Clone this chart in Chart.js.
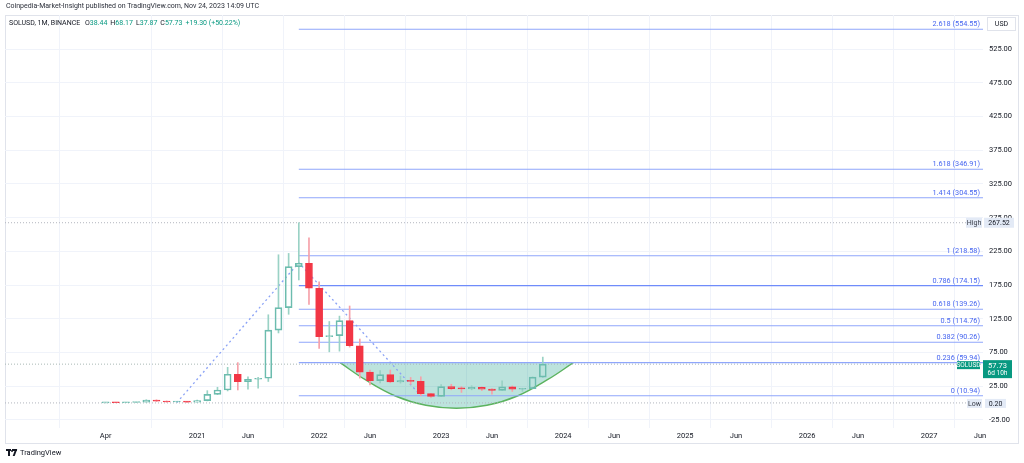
<!DOCTYPE html>
<html>
<head>
<meta charset="utf-8">
<title>SOLUSD 1M</title>
<script src="https://cdn.jsdelivr.net/npm/chart.js@4.4.0/dist/chart.umd.min.js"></script>
<style>
  html, body { margin: 0; padding: 0; background: #fff; }
  body { width: 1024px; height: 463px; position: relative; overflow: hidden; font-family: Roboto, "Liberation Sans", sans-serif; color: #131722; }
  #frame { position: absolute; left: 5px; top: 15px; width: 1014px; height: 429px; border: 1px solid #e0e3eb; box-sizing: border-box; }
  #chart { position: absolute; left: 0; top: 0; }
  .pub { position: absolute; left: 6px; top: 2px; font-size: 7px; color: #2a2e39; white-space: nowrap; }
  .legend { position: absolute; left: 9px; top: 19px; font-size: 7px; white-space: nowrap; color: #131722; }
  .legend span { margin-right: 3px; }
  .up { color: #089981; }
  .foot { position: absolute; left: 6px; top: 448px; font-size: 7.5px; white-space: nowrap; color: #131722; display: flex; align-items: center; }
  .logo { display: inline-block; width: 11px; height: 7px; position: relative; margin-right: 3px; }
  .logo i { position: absolute; background: #131722; }
</style>
</head>
<body>
<div id="frame"></div>
<canvas id="chart" width="1024" height="463"></canvas>
<div class="pub">Coinpedia-Market-Insight published on TradingView.com, Nov 24, 2023 14:09 UTC</div>
<div class="legend"><span>SOLUSD, 1M, BINANCE</span> <span>O<b class="up" style="font-weight:normal">38.44</b></span><span>H<b class="up" style="font-weight:normal">68.17</b></span><span>L<b class="up" style="font-weight:normal">37.87</b></span><span>C<b class="up" style="font-weight:normal">57.73</b></span><span class="up">+19.30 (+50.22%)</span></div>
<div class="foot"><span class="logo"><i style="left:0;top:0;width:5px;height:2px"></i><i style="left:2px;top:0;width:2px;height:7px"></i><i style="left:5px;top:1px;width:2px;height:2px;border-radius:1px"></i><i style="left:6px;top:0;width:5px;height:2px"></i><i style="left:8px;top:0;width:2px;height:7px;transform:skewX(-20deg)"></i></span>TradingView</div>
<script>
// monthly candles, SOLUSD
const dates = [
  "2020-04","2020-05","2020-06","2020-07","2020-08","2020-09","2020-10","2020-11","2020-12",
  "2021-01","2021-02","2021-03","2021-04","2021-05","2021-06","2021-07","2021-08","2021-09","2021-10","2021-11","2021-12",
  "2022-01","2022-02","2022-03","2022-04","2022-05","2022-06","2022-07","2022-08","2022-09","2022-10","2022-11","2022-12",
  "2023-01","2023-02","2023-03","2023-04","2023-05","2023-06","2023-07","2023-08","2023-09","2023-10","2023-11"
];
const opens = [0.22,0.62,0.52,0.78,1.32,4.4,2.9,1.6,1.9,
  1.5,3.7,13.0,19.4,42.7,31.7,35.3,36.8,108.3,141.5,202.3,207.4,
  170.3,98.5,100,122.2,85,46,33.2,42.1,31.5,33.3,32.2,13.9,
  9.96,24.3,21.4,21.0,23.4,20.6,18.9,23.9,20.5,21.3,38.44];
const highs = [0.98,0.76,0.95,1.48,4.95,4.8,3.1,2.6,2.2,
  4.5,18.4,23.4,53,60,39,38,131,220,222,267.52,245,
  180,121,129,144,95,49,48,49,40,38,39,14.6,
  27.3,27.9,24.3,25.8,24,21.5,32.8,25.4,22,38.8,68.17];
const lows = [0.20,0.45,0.52,0.75,1.30,2.5,1.2,1.5,1.1,
  1.4,3.2,12.5,18,19.4,20.5,22,32,104,131.7,182.6,146.5,
  81,76,77,83,37,27,30,30,29.5,27.8,11,8.5,
  9.6,19.6,15.8,19.6,18.5,13.3,18.6,17.3,17.3,21.1,37.87];
const closes = [0.62,0.52,0.78,1.32,4.4,2.9,1.6,1.9,1.5,
  3.7,13.0,19.4,42.7,31.7,35.3,36.8,108.3,141.5,202.3,207.4,170.3,
  98.5,100,122.2,85,46,33.2,42.1,31.5,33.3,32.2,13.9,9.96,
  24.3,21.4,21.0,23.4,20.6,18.9,23.9,20.5,21.3,38.44,57.73];

// trend based fib extension
const fibRatios = ["2.618","1.618","1.414","1","0.786","0.618","0.5","0.382","0.236","0"];
const fibLevels = [554.55,346.91,304.55,218.58,174.15,139.26,114.76,90.26,59.94,10.94];
const fibStart = "2021-11";
const trendDates = ["2020-11","2021-11","2022-11"];
const trendValues = [0.6,208.2,10.94];

// cup drawn under the 0.236 line (months since Jan 2020, price)
const cupMonths = [26.06,28.5,31.5,34.5,37.5,40.5,43.5,46.5,49.0];
const cupValues = [59.94,35,10.5,-3.3,-7.7,-3.3,10.5,35,59.94];

const highValue = 267.52;
const lowValue = 0.20;
const lastPrice = 57.73;

const xTickMonths = [3,12,17,24,29,36,41,48,53,60,65,72,77,84,89];
const xTickLabels = ["Apr","2021","Jun","2022","Jun","2023","Jun","2024","Jun","2025","Jun","2026","Jun","2027","Jun"];
const yTicks = [-25,25,75,125,175,225,275,325,375,425,475,525];

const X_MIN = -6.9, X_MAX = 89.3;
const Y_MIN = -37, Y_MAX = 575.7;

const toMonth = s => { const [yy, mm] = s.split("-").map(Number); return (yy - 2020) * 12 + (mm - 1); };
const xs = dates.map(toMonth);
const isUp = closes.map((c, i) => c >= opens[i]);

const GREEN = "#6cbcae", GREEN_WICK = "#9ad2c5", RED = "#f23645", RED_WICK = "#f6a1a9";

const hLine = (v, color, dash, width) => ({
  type: "line",
  data: [{ x: X_MIN, y: v }, { x: X_MAX, y: v }],
  borderColor: color, borderWidth: width, borderDash: dash,
  pointRadius: 0, order: 5
});

const fibSets = fibLevels.map((v, i) => ({
  type: "line",
  data: [{ x: toMonth(fibStart), y: v }, { x: X_MAX, y: v }],
  borderColor: i === 4 ? "#6f8cfa" : "#8fa6fb",
  borderWidth: i === 4 ? 1.4 : 1.1,
  pointRadius: 0, order: 4
}));

const datasets = [
  {
    type: "line",
    data: cupMonths.map((m, i) => ({ x: m, y: cupValues[i] })),
    borderColor: "#5cb35f", borderWidth: 1.4,
    backgroundColor: "rgba(8,153,129,0.27)",
    fill: { value: fibLevels[8] },
    tension: 0.4, pointRadius: 0, order: 10
  },
  hLine(highValue, "#b2b5be", [1, 2], 1),
  hLine(lowValue, "#b2b5be", [1, 2], 1),
  hLine(lastPrice, "#a9b8b4", [1, 2], 1),
  ...fibSets,
  {
    type: "line",
    data: trendDates.map((d, i) => ({ x: toMonth(d), y: trendValues[i] })),
    borderColor: "#8aa2f6", borderWidth: 1.3, borderDash: [2, 3],
    pointRadius: 0, tension: 0, order: 3
  },
  {
    // upper wicks
    data: xs.map((x, i) => ({ x, y: [Math.max(opens[i], closes[i]), highs[i]] })),
    backgroundColor: isUp.map(u => u ? GREEN_WICK : RED_WICK),
    borderWidth: 0, barThickness: 1, grouped: false, order: 2
  },
  {
    // lower wicks
    data: xs.map((x, i) => ({ x, y: [lows[i], Math.min(opens[i], closes[i])] })),
    backgroundColor: isUp.map(u => u ? GREEN_WICK : RED_WICK),
    borderWidth: 0, barThickness: 1, grouped: false, order: 2
  },
  {
    // bodies, hollow when up
    data: xs.map((x, i) => ({ x, y: [opens[i], closes[i]] })),
    backgroundColor: isUp.map(u => u ? "rgba(0,0,0,0)" : RED),
    borderColor: isUp.map(u => u ? GREEN : RED),
    borderWidth: 1, borderSkipped: false, minBarLength: 1,
    barThickness: 7, grouped: false, order: 1
  }
];

const box = (ctx, x, y, w, h, bg, txt, color, font) => {
  ctx.fillStyle = bg;
  ctx.fillRect(x, y, w, h);
  ctx.fillStyle = color;
  ctx.font = font;
  ctx.textAlign = "center";
  ctx.textBaseline = "middle";
  ctx.fillText(txt, x + w / 2, y + h / 2 + 0.5);
};

const overlay = {
  id: "overlay",
  afterDatasetsDraw(chart) {
    const { ctx, chartArea, scales: { y } } = chart;
    ctx.save();
    ctx.font = "7.3px Roboto";
    ctx.fillStyle = "#4766f0";
    ctx.textAlign = "right";
    ctx.textBaseline = "alphabetic";
    fibLevels.forEach((v, i) => {
      ctx.fillText(fibRatios[i] + " (" + v.toFixed(2) + ")", chartArea.right - 3, y.getPixelForValue(v) - 3);
    });
    ctx.restore();
  },
  afterDraw(chart) {
    const { ctx, chartArea, scales: { y } } = chart;
    const r = chartArea.right;
    ctx.save();
    const f = "7px Roboto";
    let py = y.getPixelForValue(highValue);
    box(ctx, r - 17, py - 5, 16, 10, "#e3eaf6", "High", "#3b3f4a", f);
    box(ctx, r + 1, py - 5, 30, 10, "#e3eaf6", highValue.toFixed(2), "#131722", f);
    py = y.getPixelForValue(lowValue);
    box(ctx, r - 16, py - 4, 15, 9, "#e3eaf6", "Low", "#3b3f4a", f);
    box(ctx, r + 2, py - 4, 21, 9, "#e3eaf6", lowValue.toFixed(2), "#131722", f);
    py = y.getPixelForValue(lastPrice);
    box(ctx, r - 26, py - 3, 23, 8, "#089981", "SOLUSD", "#fff", "6.5px Roboto");
    ctx.fillStyle = "#089981";
    ctx.fillRect(r, py - 4, 29, 18);
    ctx.fillStyle = "#fff";
    ctx.font = "7.5px Roboto";
    ctx.textAlign = "center";
    ctx.textBaseline = "middle";
    ctx.fillText(lastPrice.toFixed(2), r + 14.5, py + 1.5);
    ctx.font = "6.5px Roboto";
    ctx.fillText("6d 10h", r + 14.5, py + 9.5);
    // currency box
    ctx.fillStyle = "#fff";
    ctx.fillRect(r + 4, 17, 29, 14);
    ctx.strokeStyle = "#e0e3eb";
    ctx.lineWidth = 1;
    ctx.strokeRect(r + 4.5, 17.5, 28, 13);
    ctx.fillStyle = "#131722";
    ctx.font = "7px Roboto";
    ctx.fillText("USD", r + 18.5, 24.5);
    ctx.restore();
  }
};

new Chart(document.getElementById("chart"), {
  type: "bar",
  data: { datasets },
  options: {
    responsive: false,
    animation: false,
    events: [],
    layout: { padding: { left: 5, top: 15, right: 6, bottom: 20 } },
    plugins: { legend: { display: false }, tooltip: { enabled: false } },
    scales: {
      x: {
        type: "linear", min: X_MIN, max: X_MAX, offset: false,
        afterBuildTicks: s => { s.ticks = xTickMonths.map(v => ({ value: v })); },
        afterFit: s => { s.height = 15; },
        grid: { color: "#f0f3fa", drawTicks: false },
        border: { display: false },
        ticks: {
          autoSkip: false, maxRotation: 0, padding: 4,
          font: { size: 7.5, family: "Roboto" }, color: "#131722",
          callback: v => xTickLabels[xTickMonths.indexOf(v)]
        }
      },
      y: {
        type: "linear", position: "right", min: Y_MIN, max: Y_MAX,
        afterBuildTicks: s => { s.ticks = yTicks.map(v => ({ value: v })); },
        afterFit: s => { s.width = 35; },
        grid: { color: "#f0f3fa", drawTicks: false },
        border: { display: false },
        ticks: {
          padding: 6,
          font: { size: 7.5, family: "Roboto" }, color: "#131722",
          callback: v => v.toFixed(2)
        }
      }
    }
  },
  plugins: [overlay]
});
</script>
</body>
</html>
